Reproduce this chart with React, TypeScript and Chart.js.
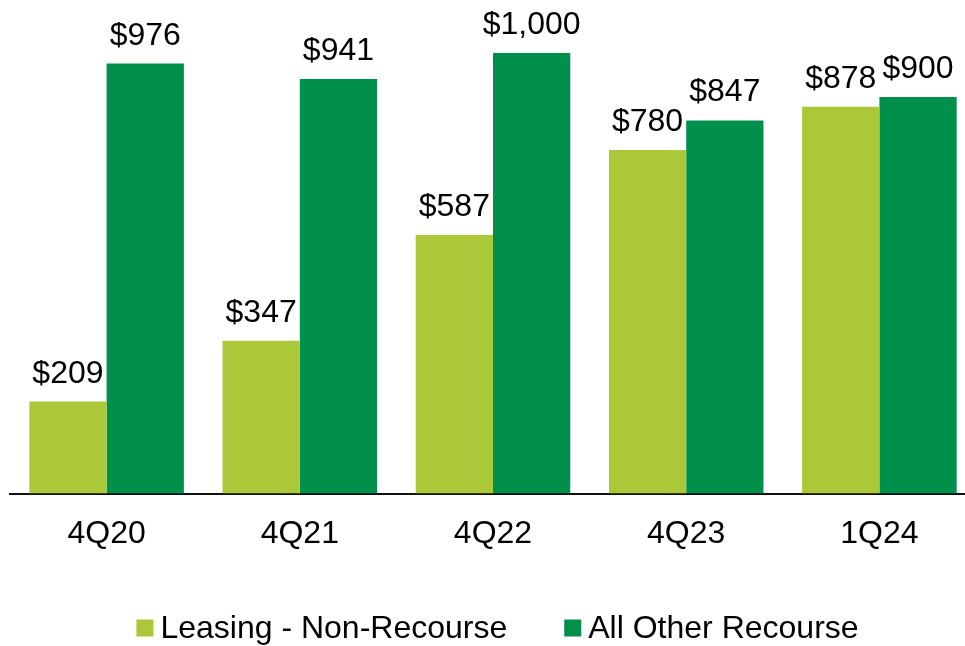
import React, { useEffect, useRef } from "react";
import { Chart, registerables } from "chart.js";

Chart.register(...registerables);

const categories = ["4Q20", "4Q21", "4Q22", "4Q23", "1Q24"];
const leasingNonRecourse = [209, 347, 587, 780, 878];
const allOtherRecourse = [976, 941, 1000, 847, 900];
const seriesNames = ["Leasing - Non-Recourse", "All Other Recourse"];
const seriesColors = ["#AAC838", "#00904C"];

const FONT = "Arial, 'Liberation Sans', sans-serif";

const valueLabels = {
  id: "valueLabels",
  afterDatasetsDraw(chart: any) {
    const ctx = chart.ctx;
    ctx.save();
    ctx.font = `32px ${FONT}`;
    ctx.fillStyle = "#000";
    ctx.textAlign = "center";
    ctx.textBaseline = "alphabetic";
    chart.data.datasets.forEach((ds: any, i: number) => {
      const meta = chart.getDatasetMeta(i);
      meta.data.forEach((el: any, j: number) => {
        const v = ds.data[j];
        ctx.fillText("$" + v.toLocaleString("en-US"), el.x, el.y - 19);
      });
    });
    ctx.restore();
  },
};

const customLegend = {
  id: "customLegend",
  afterDraw(chart: any) {
    const ctx = chart.ctx;
    ctx.save();
    ctx.font = `32px ${FONT}`;
    const box = 17;
    const gapBoxText = 7;
    const gapItems = 57;
    const widths = chart.data.datasets.map((ds: any) => ctx.measureText(ds.label).width);
    let total = 0;
    widths.forEach((w: number, i: number) => {
      total += box + gapBoxText + w + (i > 0 ? gapItems : 0);
    });
    const centerX = 497.5;
    const cy = 628;
    let x = centerX - total / 2;
    chart.data.datasets.forEach((ds: any, i: number) => {
      ctx.fillStyle = ds.backgroundColor;
      ctx.fillRect(x, cy - box / 2, box, box);
      ctx.fillStyle = "#000";
      ctx.textAlign = "left";
      ctx.textBaseline = "middle";
      ctx.fillText(ds.label, x + box + gapBoxText, cy + 1);
      x += box + gapBoxText + widths[i] + gapItems;
    });
    ctx.restore();
  },
};

export default function App() {
  const ref = useRef<HTMLCanvasElement>(null);
  useEffect(() => {
    document.body.style.margin = "0";
    document.body.style.overflow = "hidden";
    const chart = new Chart(ref.current!, {
      type: "bar",
      data: {
        labels: categories,
        datasets: [
          { label: seriesNames[0], data: leasingNonRecourse, backgroundColor: seriesColors[0] },
          { label: seriesNames[1], data: allOtherRecourse, backgroundColor: seriesColors[1] },
        ],
      },
      options: {
        animation: false,
        responsive: false,
        maintainAspectRatio: false,
        layout: { padding: { left: 10, right: 10, top: 53, bottom: 72 } },
        datasets: { bar: { categoryPercentage: 0.8, barPercentage: 1.0 } },
        scales: {
          x: {
            grid: { display: false, drawTicks: false },
            border: { display: true, color: "#111", width: 2 },
            ticks: { color: "#000", font: { family: FONT, size: 32 }, padding: 21 },
          },
          y: {
            display: false,
            min: 0,
            max: 1000,
          },
        },
        plugins: {
          legend: { display: false },
          tooltip: { enabled: false },
        },
      },
      plugins: [valueLabels, customLegend],
    });
    return () => chart.destroy();
  }, []);
  return (
    <div style={{ width: 986, height: 646 }}>
      <canvas ref={ref} width={986} height={646} style={{ width: 986, height: 646 }} />
    </div>
  );
}
